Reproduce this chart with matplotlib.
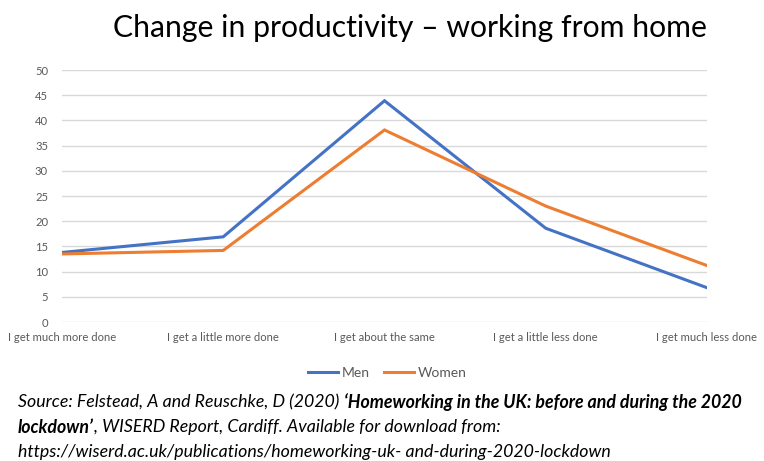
import matplotlib
matplotlib.use('Agg')
import matplotlib.pyplot as plt

# data
categories = ['I get much more done', 'I get a little more done', 'I get about the same',
              'I get a little less done', 'I get much less done']
men = [13.8, 16.9, 43.9, 18.6, 6.8]
women = [13.5, 14.2, 38.1, 23.0, 11.2]
yticks = list(range(0, 55, 5))

plt.rcParams['font.family'] = ['Lato', 'DejaVu Sans']

fig = plt.figure(figsize=(7.64, 4.61), dpi=100)
fig.patch.set_facecolor('white')
ax = fig.add_axes([62 / 764, 1 - 322 / 461, (707 - 62) / 764, (322 - 70) / 461])

x = list(range(len(categories)))
ax.plot(x, men, color='#4472c4', linewidth=2.2, label='Men', solid_joinstyle='miter')
ax.plot(x, women, color='#ed7d31', linewidth=2.2, label='Women', solid_joinstyle='miter')

ax.set_xlim(0, len(categories) - 1)
ax.set_ylim(0, 50)
ax.set_yticks(yticks)
ax.set_xticks(x)
ax.set_xticklabels(categories)
ax.grid(axis='y', color='#d9d9d9', linewidth=1)
ax.set_axisbelow(True)
for s in ax.spines.values():
    s.set_visible(False)
ax.tick_params(axis='both', length=0, labelsize=8.1, labelcolor='#595959')
ax.tick_params(axis='y', pad=10)
ax.tick_params(axis='x', pad=7)

fig.text(410 / 764, 1 - 28 / 461, 'Change in productivity \u2013 working from home',
         ha='center', va='center', fontsize=21.7, color='black')

fig.legend(loc='center', bbox_to_anchor=(387 / 764, 1 - 373 / 461), ncol=2, frameon=False,
           fontsize=10, labelcolor='#595959', handlelength=2.2, handletextpad=0.25,
           columnspacing=1.0)

# source note with mixed italic / bold-italic pieces
lines = [
    [('Source: Felstead, A and Reuschke, D (2020) ', 'normal'),
     ('\u2018Homeworking in the UK: before and during the 2020', 'bold')],
    [('lockdown\u2019', 'bold'), (', WISERD Report, Cardiff. Available for download from:', 'normal')],
    [('https://wiserd.ac.uk/publications/homeworking-uk- and-during-2020-lockdown', 'normal')],
]
renderer = fig.canvas.get_renderer()
for i, parts in enumerate(lines):
    xpx = 18
    ypx = 461 - (402 + i * 25)
    for txt, w in parts:
        t = fig.text(xpx / 764, ypx / 461, txt, ha='left', va='center', fontsize=12.75,
                     style='italic', fontweight=w, color='black')
        xpx += t.get_window_extent(renderer).width

fig.savefig('out.png', dpi=100, facecolor='white')
